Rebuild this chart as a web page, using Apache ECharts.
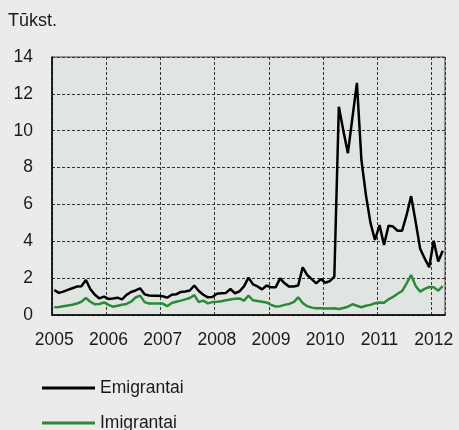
<!DOCTYPE html>
<html>
<head>
<meta charset="utf-8">
<script src="https://cdn.jsdelivr.net/npm/echarts@6/dist/echarts.min.js"></script>
<style>
  html, body { margin: 0; padding: 0; background: #ebebea; }
  #chart { width: 459px; height: 430px; }
</style>
</head>
<body>
<div id="chart"></div>
<script>
// monthly, Jan 2005 .. Mar 2012, thousands of people
var years = [2005, 2006, 2007, 2008, 2009, 2010, 2011, 2012];
var months = [];
years.forEach(function (y) {
  for (var m = 1; m <= 12; m++) {
    if (y === 2012 && m > 3) break;
    months.push(y + '-' + (m < 10 ? '0' + m : m));
  }
});

var emigrantai = [
  1.36, 1.2, 1.27, 1.36, 1.45, 1.54, 1.56, 1.9, 1.4, 1.1, 0.9, 1.0,
  0.87, 0.9, 0.94, 0.85, 1.09, 1.25, 1.33, 1.45, 1.12, 1.06, 1.05, 1.04,
  1.02, 0.94, 1.1, 1.12, 1.25, 1.28, 1.33, 1.6, 1.3, 1.1, 0.96, 0.98,
  1.15, 1.18, 1.2, 1.41, 1.18, 1.28, 1.55, 2.03, 1.66, 1.55, 1.39, 1.6,
  1.5, 1.5, 1.99, 1.72, 1.54, 1.55, 1.6, 2.59, 2.17, 1.95, 1.72, 1.95,
  1.75, 1.84, 2.08, 11.3, 10.0, 8.78, 10.7, 12.6, 8.4, 6.5, 5.0, 4.07,
  4.88, 3.8, 4.85, 4.8, 4.57, 4.57, 5.43, 6.45, 5.06, 3.6, 3.07, 2.59,
  4.03, 2.9, 3.49
];

var imigrantai = [
  0.42, 0.44, 0.48, 0.52, 0.56, 0.62, 0.72, 0.92, 0.72, 0.58, 0.6, 0.68,
  0.55, 0.45, 0.5, 0.56, 0.6, 0.72, 0.95, 1.05, 0.7, 0.62, 0.62, 0.62,
  0.62, 0.48, 0.65, 0.72, 0.78, 0.85, 0.92, 1.08, 0.7, 0.78, 0.63, 0.7,
  0.72, 0.75, 0.8, 0.84, 0.88, 0.9, 0.78, 1.05, 0.8, 0.76, 0.72, 0.68,
  0.55, 0.46, 0.48, 0.55, 0.6, 0.7, 0.96, 0.65, 0.48, 0.4, 0.37, 0.36,
  0.35, 0.35, 0.36, 0.33, 0.38, 0.45, 0.58, 0.5, 0.42, 0.5, 0.55, 0.64,
  0.68, 0.67, 0.85, 0.98, 1.15, 1.3, 1.72, 2.17, 1.57, 1.27, 1.42, 1.52,
  1.5, 1.32, 1.57
];

var font = "'Liberation Sans', Arial, sans-serif";
var dashed = { color: '#333', width: 1, type: [3, 2] };
var legendText = { fontFamily: font, fontSize: 17.5, color: '#1a1a1a', lineHeight: 20 };

var chart = echarts.init(document.getElementById('chart'));
chart.setOption({
  backgroundColor: '#ebebea',
  animation: false,
  title: {
    text: 'Tūkst.',
    left: 8,
    top: 12,
    padding: 0,
    textStyle: { fontFamily: font, fontSize: 18, fontWeight: 'normal', color: '#1a1a1a' }
  },
  // one legend per row, so the two items stack like the reference
  legend: [
    {
      left: 42, top: 378, padding: 0,
      icon: 'rect', itemWidth: 53, itemHeight: 3,
      textStyle: legendText,
      data: ['Emigrantai']
    },
    {
      left: 42, top: 413, padding: 0,
      icon: 'rect', itemWidth: 53, itemHeight: 3,
      textStyle: legendText,
      data: ['Imigrantai']
    }
  ],
  grid: {
    left: 52,
    right: 14,
    top: 57,
    bottom: 115,
    show: true,
    backgroundColor: '#e1e5e1',
    borderColor: '#444',
    borderWidth: 1
  },
  xAxis: {
    type: 'category',
    data: months,
    boundaryGap: true,
    axisLine: { lineStyle: { color: '#000', width: 1.5 } },
    axisTick: {
      length: 5,
      lineStyle: { color: '#000' },
      interval: function (index) { return index % 6 === 0; }
    },
    axisLabel: {
      fontFamily: font,
      fontSize: 17.5,
      color: '#1a1a1a',
      margin: 16,
      interval: function (index) { return index % 12 === 0; },
      formatter: function (v) { return v.slice(0, 4); }
    },
    splitLine: {
      show: true,
      lineStyle: dashed,
      interval: function (index) { return index % 12 === 0; }
    }
  },
  yAxis: {
    type: 'value',
    min: 0,
    max: 14,
    interval: 2,
    axisLine: { show: true, lineStyle: { color: '#000', width: 1.5 } },
    axisTick: { show: false },
    axisLabel: { fontFamily: font, fontSize: 17.5, color: '#1a1a1a', margin: 19 },
    splitLine: { lineStyle: dashed }
  },
  series: [
    {
      name: 'Emigrantai',
      type: 'line',
      data: emigrantai,
      symbol: 'none',
      color: '#000',
      lineStyle: { color: '#000', width: 2.5 }
    },
    {
      name: 'Imigrantai',
      type: 'line',
      data: imigrantai,
      symbol: 'none',
      color: '#2a8a3a',
      lineStyle: { color: '#2a8a3a', width: 2.5 }
    }
  ]
});
</script>
</body>
</html>
